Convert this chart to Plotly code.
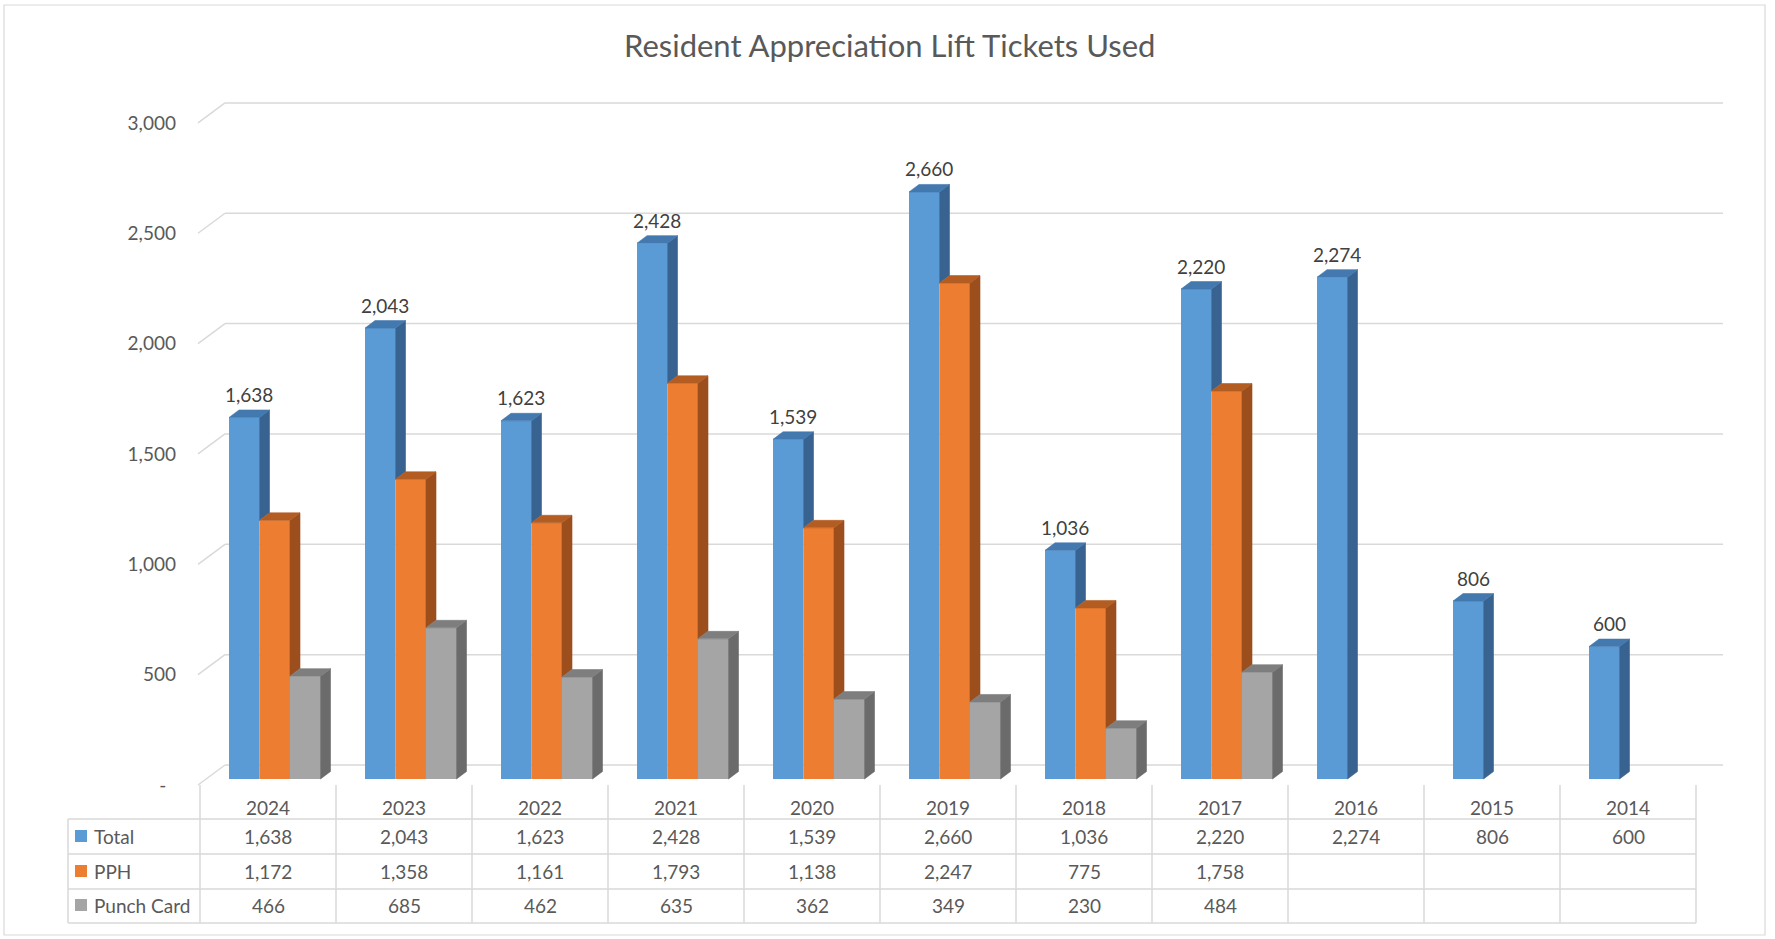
import plotly.graph_objects as go

# ---------------- data ----------------
years = ["2024", "2023", "2022", "2021", "2020", "2019", "2018", "2017", "2016", "2015", "2014"]
total = [1638, 2043, 1623, 2428, 1539, 2660, 1036, 2220, 2274, 806, 600]
pph = [1172, 1358, 1161, 1793, 1138, 2247, 775, 1758, None, None, None]
punch_card = [466, 685, 462, 635, 362, 349, 230, 484, None, None, None]
series_names = ["Total", "PPH", "Punch Card"]
y_ticks = [0, 500, 1000, 1500, 2000, 2500, 3000]
title_text = "Resident Appreciation Lift Tickets Used"

# ---------------- styling / geometry ----------------
W, H = 1775, 939
PX_X = 136.0          # pixels per category
PX_Y = 0.2207         # pixels per ticket
X0_PX, Y0_PX = 229, 779   # pixel of category 0 left edge / value 0 (bar front plane)

front_col = ["#5B9BD5", "#ED7D31", "#A5A5A5"]
side_col = ["#386390", "#9C4F1D", "#6B6B6B"]
top_col = ["#4379AE", "#B35D22", "#7E7E7E"]
grid_col = "#D9D9D9"
txt_col = "#595959"
lbl_col = "#404040"
FONT = "Lato"
FS = 19


def xd(px):
    return (px - X0_PX) / PX_X


def yp(py):
    return 1 - py / H


bw = 30.5 / PX_X       # front bar width in category units
ddx = 10 / PX_X        # depth offset in x
ddy = 7.5 / PX_Y       # depth offset in y (value units)
back_dy = 14 / PX_Y
front_dy = -6 / PX_Y

series = [total, pph, punch_card]

fig = go.Figure()

# ---- front faces (bars) ----
for j, (name, vals) in enumerate(zip(series_names, series)):
    xs, ys = [], []
    for i, v in enumerate(vals):
        if v is None:
            continue
        xs.append(i + j * bw + bw / 2)
        ys.append(v)
    fig.add_trace(go.Bar(x=xs, y=ys, width=bw, name=name,
                         marker=dict(color=front_col[j], line=dict(width=0)),
                         hoverinfo="y", showlegend=False))

# ---- side and top faces ----
for j, vals in enumerate(series):
    sx, sy, tx, ty = [], [], [], []
    for i, v in enumerate(vals):
        if v is None:
            continue
        xl = i + j * bw
        xr = xl + bw
        nxt = series[j + 1][i] if j + 1 < len(series) else None
        base = nxt if nxt is not None else 0
        if v > base:
            sx += [xr, xr + ddx, xr + ddx, xr, xr, None]
            sy += [base, base + ddy, v + ddy, v, base, None]
        tx += [xl, xr, xr + ddx, xl + ddx, xl, None]
        ty += [v, v, v + ddy, v + ddy, v, None]
    fig.add_trace(go.Scatter(x=sx, y=sy, mode="lines", fill="toself",
                             fillcolor=side_col[j], line=dict(width=0.6, color=side_col[j]),
                             hoverinfo="skip", showlegend=False))
    fig.add_trace(go.Scatter(x=tx, y=ty, mode="lines", fill="toself",
                             fillcolor=top_col[j], line=dict(width=0.6, color=top_col[j]),
                             hoverinfo="skip", showlegend=False))

# dummy trace so that the label axis renders
fig.add_trace(go.Scatter(x=[None], y=[None], yaxis="y2", showlegend=False, hoverinfo="skip"))

shapes = []
# ---- back wall gridlines ----
for t in y_ticks:
    shapes.append(dict(type="line", xref="x", yref="y", layer="below",
                       x0=xd(198), y0=t + front_dy, x1=xd(225), y1=t + back_dy,
                       line=dict(color=grid_col, width=1.5)))
    shapes.append(dict(type="line", xref="x", yref="y", layer="below",
                       x0=xd(225), y0=t + back_dy, x1=xd(1723), y1=t + back_dy,
                       line=dict(color=grid_col, width=1.5)))

# ---- data table grid ----
row_lines_py = [819, 854, 889, 923]
n = len(years)
col_edges = [k - 29 / PX_X for k in range(n + 1)]
for py in row_lines_py:
    shapes.append(dict(type="line", xref="x", yref="paper",
                       x0=xd(68), x1=col_edges[-1], y0=yp(py), y1=yp(py),
                       line=dict(color=grid_col, width=1.5)))
for ce in col_edges:
    shapes.append(dict(type="line", xref="x", yref="paper",
                       x0=ce, x1=ce, y0=yp(785), y1=yp(923),
                       line=dict(color=grid_col, width=1.5)))
shapes.append(dict(type="line", xref="x", yref="paper",
                   x0=xd(68), x1=xd(68), y0=yp(819), y1=yp(923),
                   line=dict(color=grid_col, width=1.5)))

row_centers_py = [836, 871, 905]
for j, rc in enumerate(row_centers_py):
    shapes.append(dict(type="rect", xref="x", yref="paper",
                       x0=xd(75), x1=xd(87), y0=yp(rc + 6), y1=yp(rc - 6),
                       fillcolor=front_col[j], line=dict(width=0)))

# ---- outer chart border ----
shapes.append(dict(type="rect", xref="paper", yref="paper",
                   x0=4 / W, x1=1765 / W, y0=yp(935), y1=yp(5),
                   line=dict(color=grid_col, width=1.2)))

annotations = []
# title
annotations.append(dict(text=title_text, xref="paper", yref="paper",
                        x=889 / W, y=yp(45), xanchor="center", yanchor="middle",
                        showarrow=False,
                        font=dict(family=FONT, size=31, color=txt_col)))
# data labels (Total)
for i, v in enumerate(total):
    annotations.append(dict(text=f"{v:,}", xref="x", yref="y",
                            x=i + bw / 2 + ddx / 2, y=v, yshift=23,
                            xanchor="center", yanchor="middle", showarrow=False,
                            font=dict(family=FONT, size=FS, color=lbl_col)))
# table: header years
for k, yr_ in enumerate(years):
    annotations.append(dict(text=yr_, xref="x", yref="paper",
                            x=(col_edges[k] + col_edges[k + 1]) / 2, y=yp(807),
                            xanchor="center", yanchor="middle",
                            showarrow=False, font=dict(family=FONT, size=FS, color=txt_col)))
# table: rows
for j, (name, vals) in enumerate(zip(series_names, series)):
    annotations.append(dict(text=name, xref="x", yref="paper", x=xd(92), y=yp(row_centers_py[j]),
                            xanchor="left", yanchor="middle", showarrow=False,
                            font=dict(family=FONT, size=FS, color=txt_col)))
    for k, v in enumerate(vals):
        if v is None:
            continue
        annotations.append(dict(text=f"{v:,}", xref="x", yref="paper",
                                x=(col_edges[k] + col_edges[k + 1]) / 2, y=yp(row_centers_py[j]),
                                xanchor="center", yanchor="middle",
                                showarrow=False, font=dict(family=FONT, size=FS, color=txt_col)))

tick_text = ["-\u00a0\u00a0" if t == 0 else f"{t:,}" for t in y_ticks]

fig.update_layout(
    width=W, height=H,
    margin=dict(l=0, r=0, t=0, b=0),
    paper_bgcolor="white", plot_bgcolor="white",
    barmode="overlay",
    showlegend=False,
    xaxis=dict(range=[xd(0), xd(W)], visible=False, fixedrange=True),
    yaxis=dict(range=[(Y0_PX - H) / PX_Y, Y0_PX / PX_Y], visible=False, fixedrange=True),
    yaxis2=dict(overlaying="y", anchor="free", position=176 / W, side="left",
                range=[(785 - H) / PX_Y, 785 / PX_Y],
                tickvals=y_ticks, ticktext=tick_text, ticks="",
                showgrid=False, zeroline=False, showline=False, fixedrange=True,
                tickfont=dict(family=FONT, size=FS, color=txt_col)),
    shapes=shapes,
    annotations=annotations,
)

fig.write_html("out.html")
